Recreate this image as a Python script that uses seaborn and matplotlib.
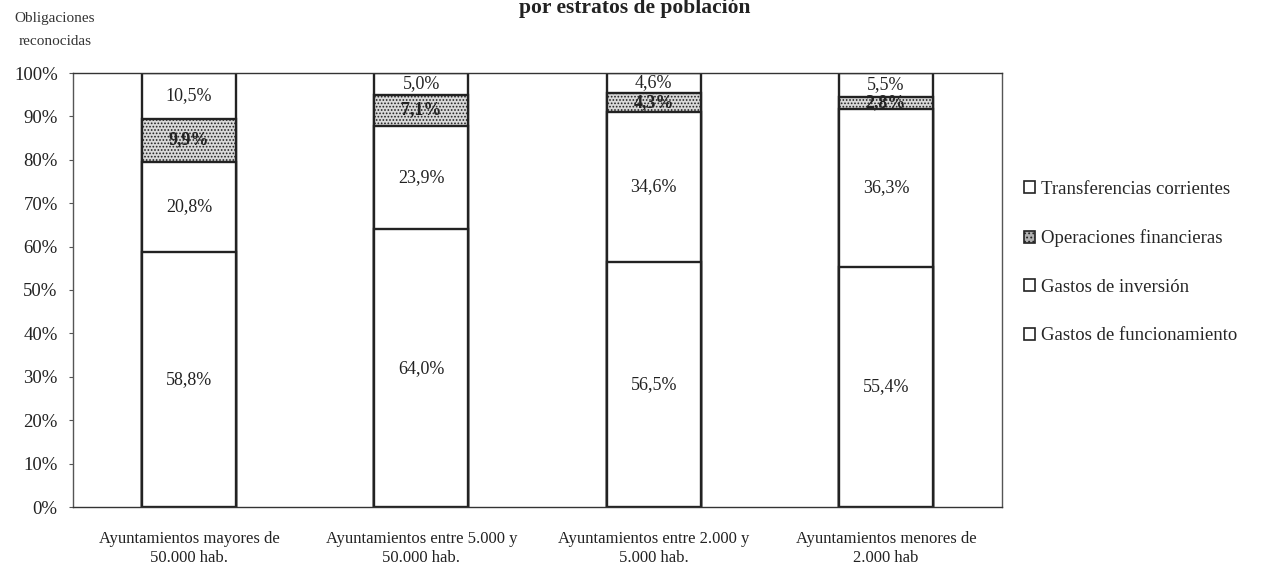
import numpy as np
import pandas as pd
import matplotlib
matplotlib.use("Agg")
import matplotlib.pyplot as plt
from matplotlib.patches import Patch
import seaborn as sns

categories = ["Ayuntamientos mayores de\n50.000 hab.",
              "Ayuntamientos entre 5.000 y\n50.000 hab.",
              "Ayuntamientos entre 2.000 y\n5.000 hab.",
              "Ayuntamientos menores de\n2.000 hab"]
series_names = ["Gastos de funcionamiento", "Gastos de inversión",
                "Operaciones financieras", "Transferencias corrientes"]
funcionamiento = [58.8, 64.0, 56.5, 55.4]
inversion = [20.8, 23.9, 34.6, 36.3]
financieras = [9.9, 7.1, 4.3, 2.8]
transferencias = [10.5, 5.0, 4.6, 5.5]
y_ticks = [0, 10, 20, 30, 40, 50, 60, 70, 80, 90, 100]

sns.set_theme(style="white")
plt.rcParams['font.family'] = ['Liberation Serif', 'DejaVu Serif']
plt.rcParams['hatch.color'] = '#999999'
plt.rcParams['hatch.linewidth'] = 0.8

layers = [funcionamiento, inversion, financieras, transferencias]
cum = np.cumsum(np.array(layers), axis=0)

fig = plt.figure(figsize=(12.66, 5.68), dpi=100)
ax = fig.add_axes([73/1266, 1-507/568, (1002-73)/1266, (507-73)/568])

styles = [dict(color='white'), dict(color='white'),
          dict(color='#d9d9d9', hatch='.....'), dict(color='white')]

# draw from top-most cumulative to bottom so each layer overlays
for i in range(3, -1, -1):
    df = pd.DataFrame({"cat": categories, "val": cum[i]})
    sns.barplot(data=df, x="cat", y="val", ax=ax, width=0.405,
                edgecolor='#222222', linewidth=1.7, saturation=1,
                **styles[i])

# labels
for i, layer in enumerate(layers):
    for j, v in enumerate(layer):
        center = cum[i][j] - v / 2
        ax.text(j, center, f"{v:.1f}%".replace('.', ','), ha='center', va='center',
                fontsize=13, color='#222222',
                fontweight='bold' if i == 2 else 'normal')

ax.set_ylim(0, 100)
ax.set_xlim(-0.5, 3.5)
ax.set_yticks(y_ticks)
ax.set_yticklabels([f"{t}%" for t in y_ticks], fontsize=13.5, color='#222222')
ax.tick_params(axis='x', labelsize=12, colors='#222222', pad=17, length=0)
ax.tick_params(axis='y', pad=8, length=3, left=True, width=0.8, color='#555555')
for lab in ax.get_xticklabels():
    lab.set_linespacing(1.25)
ax.set_xlabel("")
ax.set_ylabel("")
for s in ax.spines.values():
    s.set_visible(True)
    s.set_color('#555555')
    s.set_linewidth(1.0)
ax.spines['top'].set_color('#333333')
ax.spines['bottom'].set_color('#333333')

fig.text(635/1266, 1-13/568, "por estratos de población", ha='center', va='baseline',
         fontsize=15.5, fontweight='bold', color='#222222')
fig.text(55/1266, 1-22/568, "Obligaciones", ha='center', va='baseline',
         fontsize=11, color='#333333')
fig.text(55/1266, 1-45/568, "reconocidas", ha='center', va='baseline',
         fontsize=11, color='#333333')

handles = [Patch(facecolor='white', edgecolor='#222222', linewidth=1.2),
           Patch(facecolor='#b0b0b0', edgecolor='#222222', linewidth=1.2, hatch='....'),
           Patch(facecolor='white', edgecolor='#222222', linewidth=1.2),
           Patch(facecolor='white', edgecolor='#222222', linewidth=1.2)]
labels = ["Transferencias corrientes", "Operaciones financieras",
          "Gastos de inversión", "Gastos de funcionamiento"]
fig.legend(handles, labels, loc='upper left', bbox_to_anchor=(1024/1266, 1-181/568),
           frameon=False, fontsize=13.5, handlelength=0.6, handleheight=0.6,
           handletextpad=0.3, labelspacing=1.68, borderaxespad=0, borderpad=0)

fig.savefig("out.png", dpi=100, facecolor='white')
